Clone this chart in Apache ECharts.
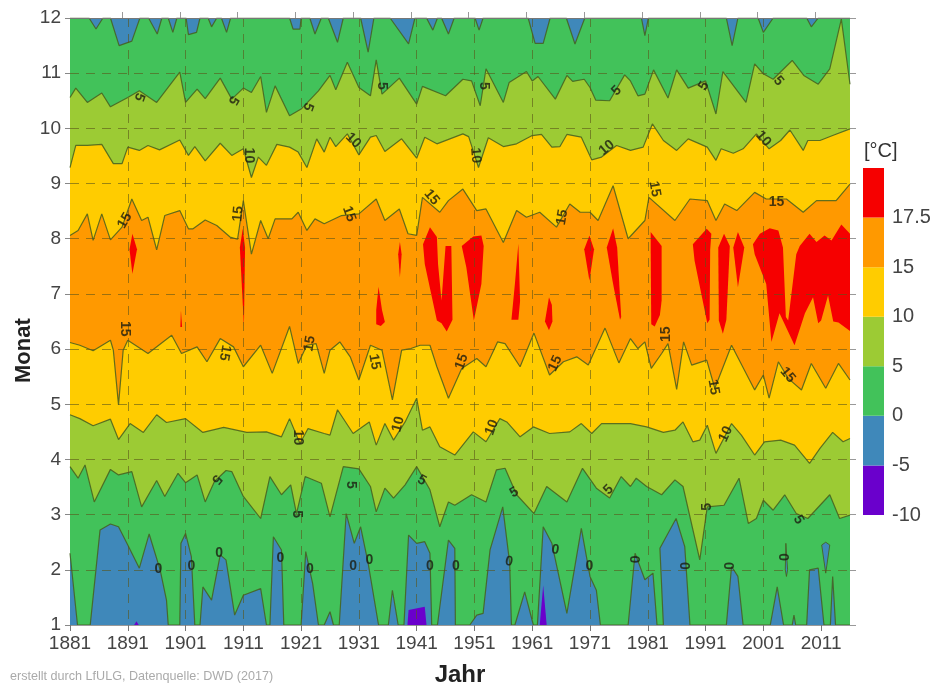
<!DOCTYPE html>
<html>
<head>
<meta charset="utf-8">
<title>Monatsmitteltemperatur</title>
<script src="https://cdn.jsdelivr.net/npm/echarts@6/dist/echarts.min.js"></script>
<style>
html, body { margin: 0; padding: 0; background: #fff; }
#main { width: 932px; height: 683px; }
</style>
</head>
<body>
<div id="main"></div>
<script>
// isotherm positions as [year, month]
const zeroTop = [[1881,12],[1884.3,12],[1885.5,11.8],[1886.7,12],[1888,12],[1889.5,11.5],[1891.7,11.58],[1893.1,12],[1894.6,12],[1896.1,11.71],[1896.9,12],[1898,12],[1898.8,11.74],[1899.5,12],[1901.1,12],[1901.5,11.7],[1902.9,11.74],[1903.5,12],[1904.9,12],[1905.5,11.84],[1906.4,12],[1907.2,12],[1908.1,11.74],[1908.8,12],[1919,12],[1919.6,11.8],[1920.8,11.8],[1921,12],[1922.5,12],[1923.4,11.71],[1924.5,12],[1925.7,12],[1927.3,11.56],[1928.3,12],[1931.3,12],[1932.6,11.38],[1933.6,12],[1936.4,12],[1939.6,11.53],[1940.7,12],[1942.7,12],[1943.8,11.78],[1944.6,12],[1945.3,12],[1946.5,11.71],[1947.5,12],[1951.1,12],[1951.8,11.78],[1952.5,12],[1960.3,12],[1961.5,11.54],[1962.9,11.54],[1964.1,12],[1966.9,12],[1968.4,11.53],[1970.1,12],[1979.9,12],[1980.5,11.68],[1981.1,12],[1994.6,12],[1995.6,11.5],[1996.6,12],[2000.1,12],[2001,11.74],[2002.7,12],[2008.5,12],[2009.3,11.84],[2010.5,12],[2016,12]];
const fiveTop = [[1881,10.56],[1882,10.73],[1884,10.47],[1886.5,10.64],[1888,10.39],[1891,10.56],[1893,10.68],[1896,10.47],[1900,11.02],[1901,10.47],[1903,10.71],[1904.4,10.54],[1907,10.91],[1909,10.53],[1911,10.73],[1912.4,10.65],[1914,10.94],[1915,10.29],[1916.5,10.77],[1919,10.23],[1921,10.35],[1924,10.68],[1926,10.96],[1927,10.7],[1929,11.2],[1931,10.74],[1933,10.59],[1934,11.24],[1935,10.62],[1938,10.91],[1941,10.44],[1942,10.76],[1946,10.59],[1949,10.89],[1950.5,10.86],[1952,10.41],[1953,11.08],[1956,10.47],[1957,10.83],[1960,11.03],[1961,10.86],[1962,10.94],[1965,10.53],[1967,10.96],[1968,10.85],[1970,10.89],[1971,10.74],[1972,10.51],[1974.4,10.5],[1977,10.97],[1978,10.86],[1979.3,10.59],[1980.5,10.62],[1982,11.06],[1984.5,10.55],[1986,11.06],[1988,10.73],[1991,10.86],[1992.8,10.26],[1994,11.03],[1998,10.47],[1999.5,11.17],[2001,10.99],[2002.7,10.89],[2006,11.23],[2008,10.96],[2010.5,10.8],[2012.5,11.08],[2014.5,11.98],[2016,10.8]];
const tenTop = [[1881,9.29],[1882,9.69],[1884,9.69],[1886.5,9.71],[1888.5,9.36],[1890,9.36],[1891,9.66],[1893,9.6],[1894.5,9.69],[1896.5,9.61],[1900,9.79],[1901.5,9.51],[1902.6,9.67],[1904.4,9.41],[1907,9.73],[1909,9.51],[1911,9.63],[1912.4,9.11],[1913.6,9.48],[1915,9.33],[1916.8,9.71],[1919,9.66],[1920.5,9.57],[1922,9.29],[1923.7,9.81],[1925,9.57],[1926,9.84],[1927,9.67],[1929,9.9],[1931,9.52],[1933,9.84],[1934,9.87],[1935.5,9.58],[1938.4,9.81],[1941,9.46],[1942.4,9.84],[1944.5,9.72],[1949,9.9],[1950,9.85],[1951.7,9.29],[1953.4,9.83],[1956,9.67],[1958.3,9.72],[1961,9.87],[1962.6,9.89],[1964.4,9.66],[1965.8,9.67],[1967,9.89],[1969.5,9.84],[1971.3,9.43],[1973,9.48],[1975.6,9.69],[1978,9.6],[1980.2,9.66],[1981.8,10.08],[1983.7,9.78],[1986,9.6],[1988,9.81],[1991.3,9.66],[1992.8,9.42],[1993.7,9.63],[1995.8,9.55],[1997.5,9.63],[1999.8,9.9],[2002,9.63],[2004,9.78],[2005.6,9.97],[2007.9,9.6],[2008.7,9.78],[2010.8,9.78],[2013,9.87],[2016,9.99]];
const fifteenTop = [[1881,8.06],[1882.4,8.15],[1884,8.45],[1885,7.97],[1886.5,8.45],[1888,7.98],[1890,8.21],[1891.7,8.72],[1893.4,8.33],[1894.5,8.39],[1896,7.8],[1897.4,8.42],[1900,8.51],[1901.5,8.18],[1902.3,8.18],[1904.4,8.34],[1906.4,8.24],[1908.7,8.03],[1910,7.99],[1911,8.69],[1912.4,7.72],[1914,8.33],[1915.3,8],[1916.5,8.36],[1919.4,8.36],[1920.5,8.48],[1922,8.15],[1923.4,8.36],[1925,8.27],[1928,8.42],[1931,8.45],[1934,8.72],[1935.5,8.33],[1938,8.54],[1939.5,8.09],[1941,8.06],[1942,8.75],[1945,8.48],[1946.5,8.69],[1949,8.9],[1951.4,8.51],[1953,8.54],[1956,7.93],[1958.3,8.51],[1960,8.39],[1962.3,8.48],[1965.2,8.21],[1967.5,8.63],[1969.3,8.48],[1971,8.48],[1972.4,8.33],[1975,8.96],[1977.6,8],[1980.5,8.33],[1981.2,8.75],[1985.7,8.33],[1988.3,8.72],[1991.3,8.69],[1992.8,8.33],[1994.3,8.63],[1996.4,8.51],[1999.5,8.84],[2001.5,8.72],[2005,8.72],[2007.9,8.48],[2010.2,8.69],[2013.6,8.69],[2016,8.99]];
const fifteenBottom = [[1881,6.12],[1882.7,6.07],[1885,5.97],[1888,6.16],[1888.5,5.98],[1889.4,4.99],[1890.2,5.98],[1891,6.16],[1894.5,5.92],[1898.6,6.25],[1900.3,5.92],[1903,6.04],[1904.7,5.77],[1907,6.19],[1909.3,6.04],[1911,5.68],[1914,6.07],[1916,5.56],[1919,6.41],[1920.5,5.74],[1922,6.07],[1923.6,6.1],[1925,5.56],[1926,5.98],[1927.7,6.13],[1929.5,5.86],[1931,5.44],[1933,6.07],[1935,5.98],[1936.8,5.08],[1938.4,5.98],[1940,6.01],[1941.6,6.07],[1943.3,6.07],[1944.5,5.68],[1946.5,5.11],[1948.8,5.65],[1951.4,5.83],[1953,5.68],[1955,6.13],[1956.3,6.1],[1958.9,5.68],[1961.3,6.29],[1964,5.53],[1966.4,5.77],[1968.7,5.86],[1970.7,5.71],[1973.6,6.38],[1976,5.75],[1978,6.19],[1979.3,6.01],[1980.5,6.13],[1981.6,5.65],[1983.4,5.92],[1984.5,6.1],[1986,5.27],[1987.2,6.13],[1988.6,5.71],[1991.2,5.8],[1992.6,5.29],[1995.5,6.07],[1999.5,5.26],[2001,5.53],[2002,5.11],[2003.6,5.77],[2005.3,5.47],[2007.6,5.26],[2009.3,5.74],[2011.8,5.29],[2014,5.74],[2016,5.44]];
const tenBottom = [[1881,4.81],[1882.7,4.74],[1885,4.61],[1888,4.73],[1889.4,4.36],[1891.4,4.65],[1893.7,4.49],[1896,4.81],[1897.7,4.67],[1901,4.74],[1904,4.49],[1907.6,4.58],[1911.6,4.49],[1915,4.5],[1917.6,4.41],[1919,4.74],[1920.8,4.29],[1922.2,4.56],[1925,4.47],[1926,4.44],[1927.3,4.9],[1930,4.47],[1932.8,4.68],[1934,4.26],[1935.5,4.65],[1937,4.35],[1939,4.68],[1941,5.11],[1942,4.53],[1943.3,4.59],[1945,4.23],[1947.6,4.08],[1950.8,4.5],[1953,4.32],[1955.4,4.74],[1956.6,4.68],[1958.9,4.41],[1961.2,4.59],[1964,4.47],[1967.5,4.5],[1969.5,4.65],[1971.3,4.47],[1973,4.65],[1978,4.65],[1980.8,4.59],[1983.7,4.49],[1985.7,4.53],[1987.1,4.68],[1988.8,4.32],[1990,4.35],[1991.3,4.62],[1992.8,4.11],[1995.5,4.65],[1997.2,4.44],[1999.5,4.08],[2001.2,4.32],[2004,4.35],[2006.4,4.26],[2009,3.93],[2010.8,4.2],[2013,4.49],[2014.8,4.32],[2016,4.38]];
const fiveBottom = [[1881,3.87],[1882.4,3.66],[1883.6,3.9],[1885.2,3.23],[1888,3.82],[1889.4,3.72],[1891.7,3.78],[1893.4,3.14],[1896,3.62],[1897.4,3.33],[1899.7,3.75],[1901,3.58],[1903,3.72],[1904.4,3.23],[1906,3.6],[1908,3.8],[1909,3.78],[1911,3.33],[1914,2.93],[1915.6,3.69],[1917.6,3.36],[1919.2,3.54],[1920.2,3.02],[1921.7,3.69],[1924.5,3.57],[1926,2.96],[1928.3,3.87],[1931,3.83],[1933,3.51],[1934,3.05],[1935.5,3.48],[1937,3.3],[1939,3.54],[1941,3.87],[1943.3,3.45],[1945,2.78],[1946.5,3.23],[1947.6,3.17],[1950.5,3.36],[1953,3.23],[1954.8,3.81],[1956.3,3.84],[1958.3,3.36],[1961.3,3.02],[1963.5,3.51],[1967,3.23],[1969.7,3.84],[1972.1,3.48],[1974.4,3.3],[1976.4,3.69],[1978,3.51],[1979,3.66],[1980.8,3.51],[1983.4,3.36],[1985.7,3.63],[1987.1,3.51],[1990,2.18],[1991.3,3.14],[1994.2,3.17],[1996.8,3.66],[1998.4,2.84],[1999.8,2.93],[2001,3.26],[2002.7,3.08],[2004.7,3.36],[2006.7,3.02],[2008.7,2.93],[2012.5,3.36],[2014.2,2.93],[2016,2.99]];
const zeroBottom = [[1881,2.3],[1882.3,1],[1884.5,1],[1886.2,2.72],[1888,2.83],[1889.4,2.78],[1891,2.45],[1893,2.03],[1894.7,2.65],[1896.6,2],[1897.7,1.45],[1898,1],[1900,1],[1900.2,2.48],[1901,2.66],[1902,2.24],[1902.6,1],[1903.5,1],[1904,1.69],[1905.5,1.45],[1907,2.27],[1908,2.18],[1909.5,1.18],[1911,1.54],[1914,1.66],[1915,1],[1915.6,1],[1916.2,2.6],[1917.6,2.36],[1918,1],[1921,1],[1921.8,2.33],[1923,1.75],[1924,1],[1925,1],[1926,1.24],[1926.6,1],[1927.6,1],[1928.8,3.02],[1930.2,2.48],[1931.3,2.78],[1932.6,2.12],[1934.4,1],[1936.1,1],[1936.8,1.63],[1937.8,1],[1938.8,1],[1939.6,2.63],[1941,2.48],[1942.4,2.51],[1943.3,2.3],[1943.6,1],[1944.6,1],[1946.5,2.54],[1947.6,2.39],[1947.7,1],[1950.2,1],[1951.4,1.18],[1952.5,1.21],[1953.7,2.36],[1955.9,3.14],[1957.1,2.12],[1957.4,1],[1958,1],[1959.7,1.6],[1961.2,1],[1961.9,1],[1962.9,2.78],[1964.4,2.48],[1967,1.21],[1969.5,2.75],[1971,1.88],[1972.1,1.63],[1972.8,1],[1977.6,1],[1978.8,2.3],[1980.5,1.82],[1981.9,1.94],[1982.6,1],[1983.7,1],[1983.1,2.39],[1985.9,2.93],[1987.4,2.42],[1988.3,1],[1994.6,1],[1995.5,2.06],[1996.6,1.88],[1997.5,1],[2002.2,1],[2003.4,1.69],[2004.5,1],[2006,1],[2006.3,1.18],[2006.6,1],[2008.5,1],[2009,2],[2010.5,2.03],[2011.5,1],[2012.6,1],[2013,1.88],[2013.5,1],[2016,1]];

// closed islands
const blueIslands = [
    [[2011.1,2.45],[2011.8,2.5],[2012.5,2.45],[2011.8,1.94]],
    [[2004.9,2.48],[2005.2,2.0],[2005,1.88],[2004.8,2.0]]
];
const purpleIslands = [
    [[1939.4,1],[1939.6,1.27],[1942.4,1.33],[1942.7,1]],
    [[1962.3,1],[1962.9,1.72],[1963.5,1]],
    [[1892.1,1],[1892.5,1.07],[1892.9,1]]
];
const redIslands = [
    [[1891.8,8.09],[1892.6,7.81],[1891.8,7.36],[1891.3,7.81]],
    [[1910.9,8.18],[1911.3,7.84],[1911.1,6.41],[1910.4,7.84]],
    [[1900.2,6.7],[1900.4,6.4],[1900.1,6.4]],
    [[1938.1,7.94],[1938.4,7.72],[1938.1,7.3],[1937.8,7.72]],
    [[1934.4,7.13],[1935,6.71],[1935.5,6.49],[1934.8,6.42],[1934,6.45],[1934,6.71]],
    [[1943.3,8.21],[1942.1,7.9],[1942.4,7.54],[1944.5,6.52],[1945.3,6.47],[1946.2,6.32],[1947.2,6.53],[1947,7.87],[1946,7.87],[1945.3,6.88],[1944.7,7.54],[1944.5,8.03]],
    [[1948.8,7.87],[1950.8,8.04],[1952.2,8.06],[1952.6,7.87],[1952.2,7.18],[1950.9,6.52],[1949.6,7.48]],
    [[1958.6,7.91],[1958.9,6.87],[1958.6,6.53],[1957.4,6.53],[1958,7.18]],
    [[1963.9,6.94],[1964.4,6.8],[1964.5,6.5],[1963.9,6.34],[1963.2,6.5]],
    [[1970.9,8.06],[1971.7,7.81],[1970.9,7.24],[1970,7.81]],
    [[1975,8.19],[1975.7,7.84],[1976.4,6.58],[1976.2,6.53],[1975,7.18],[1973.9,7.84]],
    [[1981.5,8.12],[1983.4,7.87],[1983.4,6.88],[1983.1,6.62],[1982.2,6.41],[1981.6,6.45],[1981.5,7.87]],
    [[1991.2,8.18],[1988.8,7.9],[1989.1,7.6],[1991.3,6.47],[1991.7,6.53],[1991.8,7.8],[1992,8.09]],
    [[1994.2,8.09],[1993.2,7.84],[1993.3,6.52],[1994,6.28],[1994.6,6.53],[1995.2,7.87]],
    [[1996.6,8.12],[1995.8,7.84],[1996.6,7.12],[1997.7,7.84]],
    [[1999.2,7.9],[2000.4,8.09],[2002.1,8.19],[2003.6,8.15],[2004.4,7.84],[2004.9,6.58],[2005.3,6.52],[2006.7,7.72],[2007.3,7.87],[2009,8.09],[2010.2,7.94],[2011.6,8.06],[2012.8,7.97],[2014.5,8.26],[2016,8.09],[2016,6.33],[2014,6.48],[2013.1,6.5],[2012.2,6.97],[2011,6.52],[2010.5,6.47],[2009.6,6.94],[2008.2,6.65],[2006.4,6.07],[2003.8,6.65],[2002.4,6.13],[2001.5,7.18],[1999.5,7.72]]
];

// contour labels: [year, month, text] with the angle kept apart
const contourLabels = [
    [1893,10.57,'5'],[1909.3,10.51,'5'],[1922.2,10.39,'5'],[1935,10.77,'5'],[1952.6,10.77,'5'],[1975.6,10.68,'5'],[1990.7,10.77,'5'],[2003.6,10.86,'5'],
    [1911.9,9.51,'10'],[1930,9.78,'10'],[1951.2,9.51,'10'],[1973.9,9.65,'10'],[2001,9.81,'10'],
    [1890.5,8.33,'15'],[1910.1,8.45,'15'],[1929.3,8.45,'15'],[1943.6,8.75,'15'],[1966.2,8.39,'15'],[1982.2,8.9,'15'],[2003.3,8.66,'15'],
    [1890.5,6.37,'15'],[1907.8,5.93,'15'],[1922.5,6.1,'15'],[1933.7,5.77,'15'],[1948.8,5.77,'15'],[1965,5.74,'15'],[1984.1,6.27,'15'],[1992.4,5.31,'15'],[2005.2,5.53,'15'],
    [1920.5,4.4,'10'],[1937.8,4.64,'10'],[1954,4.58,'10'],[1994.5,4.46,'10'],
    [1906.4,3.64,'5'],[1920.2,3.01,'5'],[1929.6,3.54,'5'],[1941.9,3.62,'5'],[1957.9,3.4,'5'],[1974.2,3.45,'5'],[1991.2,3.14,'5'],[2007.1,2.91,'5'],
    [1896.3,2.01,'0'],[1902,2.07,'0'],[1906.8,2.3,'0'],[1917.4,2.22,'0'],[1922.5,2.01,'0'],[1930,2.07,'0'],[1932.8,2.17,'0'],[1943.3,2.07,'0'],[1947.8,2.07,'0'],[1957,2.15,'0'],[1965,2.36,'0'],[1970.9,2.07,'0'],[1978.9,2.19,'0'],[1987.6,2.07,'0'],[1995.3,2.07,'0'],[2004.7,2.23,'0']
];
const contourAngles = [
    -110,-120,-110,-90,-90,45,60,-50,
    -90,-45,-85,40,-50,
    60,85,-70,-50,80,-80,0,
    -90,-100,80,-80,70,65,90,-80,-50,
    -90,75,70,65,
    -130,-90,-90,-30,30,45,90,-60,
    0,0,0,0,0,0,0,0,0,-10,-10,0,90,90,90,90
];

const xTickYears = [1881,1891,1901,1911,1921,1931,1941,1951,1961,1971,1981,1991,2001,2011];
const topTickYears = [1890,1900,1910,1920,1930,1940,1950,1960,1970,1980,1990,2000,2010];
const scaleLabels = ['-10','-5','0','5','10','15','17.5',''];

const PURPLE = '#6a00cc', BLUE = '#3f88ba', GREEN = '#42c25a', LIME = '#9ccb34', YELLOW = '#ffcc00', ORANGE = '#ff9900', RED = '#f60000';
const scaleColors = [PURPLE, BLUE, GREEN, LIME, YELLOW, ORANGE, RED];
const FONT = '"Liberation Sans", Arial, sans-serif';
const LINE = 'rgba(70,95,30,0.85)';
const DASH = { color: 'rgba(90,85,25,0.6)', width: 1, type: [9, 7] };

const band = (data, color) => ({
    type: 'line',
    data: data,
    showSymbol: false,
    silent: true,
    animation: false,
    lineStyle: { color: LINE, width: 1.2 },
    areaStyle: { color: color, opacity: 1, origin: 'start' }
});

// the line areas sit at z2 10, so these need a higher z to show
const islands = (list, color, stroke) => ({
    type: 'custom',
    data: list.map((_, i) => [i]),
    silent: true,
    animation: false,
    z: 3,
    renderItem: (params, api) => ({
        type: 'polygon',
        shape: { points: list[api.value(0)].map((p) => api.coord(p)) },
        style: { fill: color, stroke: stroke, lineWidth: 1 }
    })
});

var chartDom = document.getElementById('main');
var myChart = echarts.init(chartDom);
var option;

option = {
    backgroundColor: '#fff',
    animation: false,
    textStyle: { fontFamily: FONT },
    grid: [
        { left: 70, top: 18, width: 780, height: 607, show: true, backgroundColor: BLUE, borderWidth: 0, outerBoundsMode: 'none' },
        { left: 863, top: 168, width: 21, height: 347, outerBoundsMode: 'none' }
    ],
    graphic: [
        { type: 'text', x: 864, y: 141, style: { text: '[°C]', font: '20px ' + FONT, fill: '#333' } },
        { type: 'text', x: 10, y: 670, style: { text: 'erstellt durch LfULG, Datenquelle: DWD (2017)', font: '12.6px ' + FONT, fill: '#aaa' } },
        { type: 'text', x: 13, y: 383, rotation: Math.PI / 2, style: { text: 'Monat', font: 'bold 22px ' + FONT, fill: '#222' } }
    ],
    xAxis: [
        {
            type: 'value', gridIndex: 0, min: 1881, max: 2016, interval: 10, z: 5,
            name: 'Jahr', nameLocation: 'middle', nameGap: 38,
            nameTextStyle: { fontSize: 24, fontWeight: 'bold', color: '#222', fontFamily: FONT },
            axisLine: { show: true, onZero: false, lineStyle: { color: '#999' } },
            axisTick: { show: true, length: 6, customValues: xTickYears, lineStyle: { color: '#777' } },
            axisLabel: { fontSize: 19, color: '#444', margin: 9, customValues: xTickYears, fontFamily: FONT, formatter: (v) => String(v) },
            splitLine: { show: true, showMinLine: false, showMaxLine: false, lineStyle: DASH }
        },
        {
            type: 'value', gridIndex: 0, position: 'top', min: 1881, max: 2016, z: 5,
            axisLine: { show: true, onZero: false, lineStyle: { color: '#777' } },
            axisTick: { show: true, length: 6, customValues: topTickYears, lineStyle: { color: '#999' } },
            axisLabel: { show: false },
            splitLine: { show: false }
        },
        { type: 'category', gridIndex: 1, data: ['scale'], show: false }
    ],
    yAxis: [
        {
            type: 'value', gridIndex: 0, min: 1, max: 12, interval: 1, z: 5,
            axisLine: { show: false },
            axisTick: { show: true, length: 5, lineStyle: { color: '#888' } },
            axisLabel: { fontSize: 19, color: '#444', margin: 9, fontFamily: FONT },
            splitLine: { show: true, showMinLine: false, showMaxLine: false, lineStyle: DASH }
        },
        {
            type: 'value', gridIndex: 0, position: 'right', min: 1, max: 12, interval: 1, z: 5,
            axisLine: { show: false },
            axisTick: { show: true, length: 6, lineStyle: { color: '#999' } },
            axisLabel: { show: false },
            splitLine: { show: false }
        },
        {
            type: 'value', gridIndex: 1, position: 'right', min: 0, max: 7, interval: 1,
            axisLine: { show: false },
            axisTick: { show: false },
            splitLine: { show: false },
            axisLabel: { fontSize: 20, color: '#444', margin: 8, fontFamily: FONT, formatter: (v) => scaleLabels[v] }
        }
    ],
    series: [
        band(zeroTop, GREEN),
        band(fiveTop, LIME),
        band(tenTop, YELLOW),
        band(fifteenTop, ORANGE),
        band(fifteenBottom, YELLOW),
        band(tenBottom, LIME),
        band(fiveBottom, GREEN),
        band(zeroBottom, BLUE),
        islands(blueIslands, BLUE, LINE),
        islands(purpleIslands, PURPLE),
        islands(redIslands, RED),
        {
            type: 'scatter',
            data: contourLabels.map((d, i) => ({
                value: [d[0], d[1]],
                label: { formatter: d[2], rotate: contourAngles[i] }
            })),
            symbolSize: 1,
            itemStyle: { color: 'transparent' },
            silent: true,
            animation: false,
            z: 6,
            label: { show: true, position: 'inside', fontSize: 14, fontWeight: 'bold', color: '#1c1c10', fontFamily: FONT }
        }
    ].concat(scaleColors.map((c) => ({
        type: 'bar',
        xAxisIndex: 2,
        yAxisIndex: 2,
        stack: 'scale',
        barWidth: '100%',
        data: [1],
        silent: true,
        animation: false,
        itemStyle: { color: c }
    })))
};

option && myChart.setOption(option);
</script>
</body>
</html>
